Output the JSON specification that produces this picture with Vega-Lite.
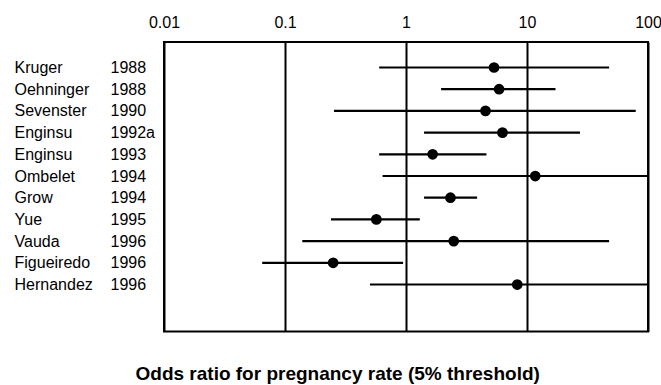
{
  "$schema": "https://vega.github.io/schema/vega-lite/v6.json",
  "width": 484,
  "height": 289.5,
  "autosize": {"type": "pad"},
  "padding": {"left": 14, "top": 14, "right": 0, "bottom": 0},
  "config": {
    "font": "Liberation Sans",
    "view": {"stroke": "black", "strokeWidth": 2}
  },
  "title": {
    "text": "Odds ratio for pregnancy rate (5% threshold)",
    "orient": "bottom",
    "anchor": "middle",
    "frame": "bounds",
    "fontSize": 19,
    "fontWeight": "bold",
    "font": "Liberation Sans",
    "color": "black",
    "baseline": "alphabetic",
    "offset": 44
  },
  "data": {
    "values": [
      {"id": "Kruger|1988", "or": 5.34, "lo": 0.60, "hi": 47.7},
      {"id": "Oehninger|1988", "or": 5.88, "lo": 1.95, "hi": 17.2},
      {"id": "Sevenster|1990", "or": 4.54, "lo": 0.254, "hi": 79.2},
      {"id": "Enginsu|1992a", "or": 6.27, "lo": 1.41, "hi": 27.4},
      {"id": "Enginsu|1993", "or": 1.66, "lo": 0.60, "hi": 4.62},
      {"id": "Ombelet|1994", "or": 11.7, "lo": 0.64, "hi": 100},
      {"id": "Grow|1994", "or": 2.33, "lo": 1.41, "hi": 3.87},
      {"id": "Yue|1995", "or": 0.569, "lo": 0.240, "hi": 1.30},
      {"id": "Vauda|1996", "or": 2.48, "lo": 0.139, "hi": 47.7},
      {"id": "Figueiredo|1996", "or": 0.250, "lo": 0.0648, "hi": 0.946},
      {"id": "Hernandez|1996", "or": 8.31, "lo": 0.504, "hi": 100}
    ]
  },
  "layer": [
    {
      "mark": {"type": "rule", "color": "black", "strokeWidth": 2.2, "clip": true},
      "encoding": {
        "x": {
          "field": "lo",
          "type": "quantitative",
          "scale": {"type": "log", "domain": [0.01, 100]},
          "axis": {
            "orient": "top",
            "title": null,
            "values": [0.01, 0.1, 1, 10, 100],
            "format": "~g",
            "labelFontSize": 16,
            "labelColor": "black",
            "labelFont": "Liberation Sans",
            "labelPadding": 12,
            "labelFlush": false,
            "labelOverlap": false,
            "ticks": false,
            "tickSize": 0,
            "domain": false,
            "grid": true,
            "gridColor": "black",
            "gridOpacity": 1,
            "gridWidth": 2
          }
        },
        "x2": {"field": "hi"},
        "y": {
          "field": "id",
          "type": "nominal",
          "sort": null,
          "scale": {
            "type": "point",
            "padding": 0.67,
            "align": 0.877,
            "domain": ["Kruger|1988", "Oehninger|1988", "Sevenster|1990", "Enginsu|1992a", "Enginsu|1993", "Ombelet|1994", "Grow|1994", "Yue|1995", "Vauda|1996", "Figueiredo|1996", "Hernandez|1996", "|", "||"]
          },
          "axis": {
            "orient": "left",
            "title": null,
            "labelExpr": "split(datum.value, '|')[1]",
            "labelAlign": "left",
            "labelPadding": 54,
            "labelFontSize": 16,
            "labelColor": "black",
            "labelFont": "Liberation Sans",
            "ticks": false,
            "tickSize": 0,
            "domain": false,
            "grid": false
          }
        }
      }
    },
    {
      "mark": {"type": "point", "filled": true, "color": "black", "opacity": 1, "size": 115},
      "encoding": {
        "x": {"field": "or", "type": "quantitative"},
        "y": {
          "field": "id",
          "type": "nominal",
          "sort": null,
          "axis": {
            "orient": "left",
            "title": null,
            "labelExpr": "split(datum.value, '|')[0]",
            "labelAlign": "left",
            "labelPadding": 150,
            "labelFontSize": 16,
            "labelColor": "black",
            "labelFont": "Liberation Sans",
            "ticks": false,
            "tickSize": 0,
            "domain": false,
            "grid": false
          }
        }
      }
    }
  ],
  "resolve": {"axis": {"y": "independent"}}
}
